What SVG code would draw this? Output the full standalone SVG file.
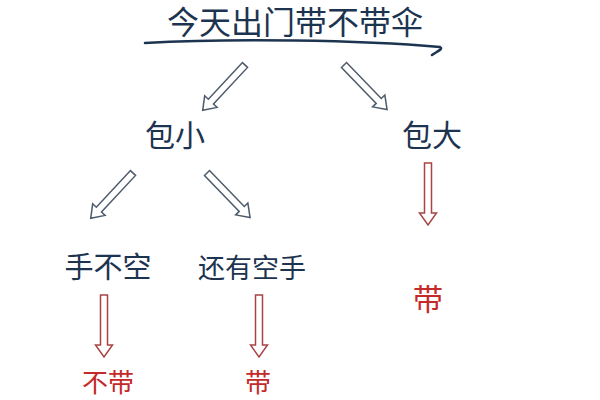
<svg xmlns="http://www.w3.org/2000/svg" width="600" height="400" viewBox="0 0 600 400">
<style>
.t{font-family:"Noto Sans CJK SC","Noto Sans",sans-serif;fill:#1d3450;text-anchor:middle}
.r{font-family:"Noto Sans CJK SC","Noto Sans",sans-serif;fill:#c42a2a;text-anchor:middle}
.ab{fill:#fff;stroke:#4d5b6b;stroke-width:1.5;stroke-linejoin:miter}
.ar{fill:#fff;stroke:#a84444;stroke-width:1.5;stroke-linejoin:miter}
</style>
<defs>
<path id="ha" d="M-3.5,0 L3.5,0 L3.5,50 L8.5,50 L0,62 L-8.5,50 L-3.5,50 Z"/>
</defs>
<rect width="600" height="400" fill="#fff"/>
<g id="title">
<text class="t" x="295" y="34" font-size="32">今天出门带不带伞</text>
<path d="M145,43 C230,38 360,40 440,47 C444,49 436,52 432,55" fill="none" stroke="#1d3450" stroke-width="2.5" stroke-linecap="round"/>
</g>
<g id="connectors">
<use href="#ha" class="ab" transform="translate(245,65) rotate(43)"/>
<use href="#ha" class="ab" transform="translate(344,65) rotate(-44)"/>
<use href="#ha" class="ab" transform="translate(133,173) rotate(43)"/>
<use href="#ha" class="ab" transform="translate(207,173) rotate(-44)"/>
<use href="#ha" class="ar" transform="translate(428,163)"/>
<use href="#ha" class="ar" transform="translate(104,295)"/>
<use href="#ha" class="ar" transform="translate(259,295)"/>
</g>
<g id="n-baoxiao"><text class="t" x="175" y="146" font-size="30">包小</text></g>
<g id="n-baoda"><text class="t" x="432" y="146" font-size="30">包大</text></g>
<g id="n-shoubukong"><text class="t" x="108" y="278" font-size="29">手不空</text></g>
<g id="n-haiyoukongshou"><text class="t" x="252" y="278" font-size="27">还有空手</text></g>
<g id="n-dai1"><text class="r" x="428" y="310" font-size="30">带</text></g>
<g id="n-budai"><text class="r" x="108" y="392" font-size="26">不带</text></g>
<g id="n-dai2"><text class="r" x="258" y="392" font-size="26">带</text></g>
</svg>
